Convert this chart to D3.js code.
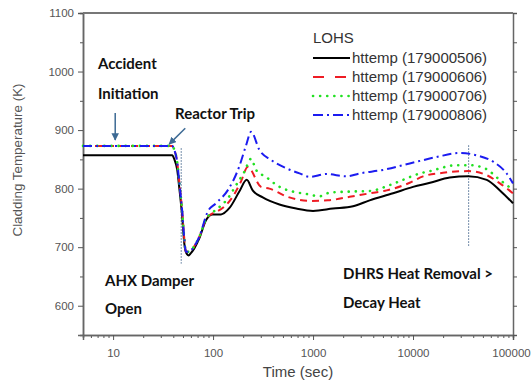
<!DOCTYPE html>
<html>
<head>
<meta charset="utf-8">
<script src="https://cdn.jsdelivr.net/npm/d3@7"></script>
<style>
  body { margin: 0; background: #fff; }
  .tick text { font-family: 'Liberation Sans', Arial, sans-serif; font-size: 11.5px; fill: #555; }
  .note { font-family: Lato, 'Open Sans', sans-serif; font-weight: bold; font-size: 15px; fill: #111; }
</style>
</head>
<body>
<div id="container"></div>
<script>
  // data
  const xTicks = [10, 100, 1000, 10000, 100000]
  const yTicks = [600, 700, 800, 900, 1000, 1100]

  const t506 = [5, 39, 41, 43.8, 46, 49.2, 51.5, 54, 56.9, 60, 64.9, 72.8, 84.9, 99, 120, 146, 183, 217, 249, 314, 461, 679, 1000, 1581, 2512, 3681, 6310, 10000, 14800, 23300, 35700, 54600, 74000, 100000]
  const v506 = [857, 857, 850, 832, 800, 751, 707, 690, 686, 690, 698, 715, 746, 756, 756, 767, 795, 815, 797, 785, 773, 766, 762, 766, 770, 780, 792, 803, 810, 819, 821, 815, 797, 775]

  const t606 = [5, 39, 41, 43.8, 46, 49.2, 51.5, 53.5, 57, 65, 73, 85, 100, 107, 157, 190, 222, 302, 366, 558, 923, 1406, 2323, 3681, 5450, 9270, 12600, 20000, 35700, 54600, 74000, 100000]
  const v606 = [873, 873, 866, 845, 810, 760, 715, 692, 692, 702, 718, 748, 758, 760, 786, 812, 837, 803, 800, 786, 779, 780, 786, 792, 797, 810, 821, 827, 830, 823, 809, 792]

  const t706 = [5, 39, 41, 43.8, 46, 49.2, 51.5, 53.5, 57, 65, 73, 85, 100, 111, 140, 170, 206, 240, 269, 338, 461, 627, 853, 1161, 1460, 2323, 3681, 5840, 7940, 11700, 14800, 27200, 37400, 54600, 71300, 100000]
  const v706 = [873, 873, 866, 845, 810, 760, 715, 692, 692, 702, 718, 748, 760, 766, 783, 806, 829, 851, 832, 820, 803, 795, 791, 787, 793, 795, 796, 806, 815, 826, 830, 840, 840, 833, 817, 798]

  const t806 = [5, 39, 41, 43.8, 46, 49.2, 51.5, 53.5, 57, 65, 73, 88, 107, 140, 183, 214, 240, 291, 380, 537, 733, 923, 1355, 2152, 2924, 5010, 9270, 17200, 29300, 43100, 63400, 86300, 100000]
  const v806 = [873, 873, 866, 845, 810, 760, 715, 692, 692, 702, 718, 760, 775, 797, 838, 874, 897, 866, 849, 835, 826, 820, 825, 821, 826, 832, 843, 854, 861, 857, 846, 826, 809]

  const seriesNames = ['httemp (179000506)', 'httemp (179000606)', 'httemp (179000706)', 'httemp (179000806)']
  const seriesT = [t506, t606, t706, t806]
  const seriesV = [v506, v606, v706, v806]
  const colors = ['#000000', '#ee1c24', '#22e022', '#1c1cf0']
  const dashes = [null, '7,5', '0.1,7', '9,4,2,4']

  // marker lines (time, from, to) and arrows
  const markT = [48, 36000]
  const markFrom = [869, 874]
  const markTo = [672, 700]

  const width = 532
  const height = 385
  const margin = { top: 13, right: 19, bottom: 50, left: 83 }
  const chartWidth = width - margin.left - margin.right
  const chartHeight = height - margin.top - margin.bottom

  const svg = d3.select('#container')
    .append('svg')
    .attr('width', width)
    .attr('height', height)
    .style('background', '#ffffff')

  const chart = svg.append('g')
    .attr('transform', `translate(${margin.left}, ${margin.top})`)

  const xScale = d3.scaleLog()
    .domain([5, 100000])
    .range([0, chartWidth])

  const yScale = d3.scaleLinear()
    .domain([550, 1100])
    .range([chartHeight, 0])

  // minor ticks
  const xMinor = []
  for (let e = 0; e < 5; e++) {
    for (let k = 2; k <= 9; k++) {
      const v = k * Math.pow(10, e)
      if (v >= 5 && v < 100000 && !xTicks.includes(v)) xMinor.push(v)
    }
  }
  const yMinor = d3.range(550, 1100, 50).filter(v => !yTicks.includes(v))

  // bottom axis
  chart.append('g')
    .attr('transform', `translate(0, ${chartHeight})`)
    .call(d3.axisBottom(xScale).tickValues(xMinor).tickSize(3).tickFormat(''))
  chart.append('g')
    .attr('class', 'xaxis')
    .attr('transform', `translate(0, ${chartHeight})`)
    .call(d3.axisBottom(xScale).tickValues(xTicks).tickSize(5).tickPadding(9).tickFormat(d3.format('d')))

  // nudge the last label so it stays inside the window, as in the source
  chart.select('.xaxis').selectAll('.tick text')
    .attr('dx', d => d === 100000 ? -2 : 0)

  // left axis
  chart.append('g')
    .call(d3.axisLeft(yScale).tickValues(yMinor).tickSize(3).tickFormat(''))
  chart.append('g')
    .call(d3.axisLeft(yScale).tickValues(yTicks).tickSize(5).tickPadding(4).tickFormat(d3.format('d')))

  // right axis, ticks inward
  chart.append('g')
    .attr('transform', `translate(${chartWidth}, 0)`)
    .call(d3.axisLeft(yScale).tickValues(yTicks.concat(yMinor)).tickSize(-4).tickFormat(''))

  chart.selectAll('.domain').attr('stroke', '#666').attr('stroke-width', 1.5)
  chart.selectAll('.tick line').attr('stroke', '#555')

  // top border
  chart.append('line')
    .attr('x1', 0).attr('x2', chartWidth)
    .attr('y1', 0).attr('y2', 0)
    .attr('stroke', '#777')
    .attr('stroke-width', 2)

  // vertical marker lines
  chart.selectAll('.mark')
    .data(markT)
    .enter()
    .append('line')
    .attr('class', 'mark')
    .attr('x1', d => xScale(d)).attr('x2', d => xScale(d))
    .attr('y1', (d, i) => yScale(markFrom[i]))
    .attr('y2', (d, i) => yScale(markTo[i]))
    .attr('stroke', '#4a6a90')
    .attr('stroke-width', 1)
    .attr('stroke-dasharray', '1.5,1.5')

  // curves
  const line = d3.line()
    .x(d => xScale(d[0]))
    .y(d => yScale(d[1]))
    .curve(d3.curveMonotoneX)

  seriesNames.forEach((name, i) => {
    const pts = seriesT[i].map((t, j) => [t, seriesV[i][j]])
    chart.append('path')
      .datum(pts)
      .attr('fill', 'none')
      .attr('stroke', colors[i])
      .attr('stroke-linecap', i === 2 ? 'round' : 'butt')
      .attr('stroke-width', i === 2 ? 2.6 : 2)
      .attr('stroke-dasharray', dashes[i])
      .attr('d', line)
  })

  // arrows
  svg.append('defs').append('marker')
    .attr('id', 'arrow')
    .attr('viewBox', '0 0 10 10')
    .attr('refX', 9).attr('refY', 5)
    .attr('markerWidth', 5).attr('markerHeight', 5)
    .attr('orient', 'auto')
    .append('path')
    .attr('d', 'M0,0 L10,5 L0,10 z')
    .attr('fill', '#3d6a94')

  const arrowFrom = [[10.5, 929], [52.7, 903]]
  const arrowTo = [[10.5, 883], [36.4, 876]]
  chart.selectAll('.arrow')
    .data(arrowFrom)
    .enter()
    .append('line')
    .attr('x1', d => xScale(d[0])).attr('y1', d => yScale(d[1]))
    .attr('x2', (d, i) => xScale(arrowTo[i][0])).attr('y2', (d, i) => yScale(arrowTo[i][1]))
    .attr('stroke', '#3d6a94')
    .attr('stroke-width', 1.5)
    .attr('marker-end', 'url(#arrow)')

  // annotations
  const notes = [
    ['Accident', 98, 69], ['Initiation', 98, 99], ['Reactor Trip', 175, 119],
    ['AHX Damper', 105, 286], ['Open', 105, 314],
    ['DHRS Heat Removal >', 343, 279], ['Decay Heat', 343, 308]
  ]
  svg.selectAll('.note')
    .data(notes)
    .enter()
    .append('text')
    .attr('class', 'note')
    .attr('x', d => d[1])
    .attr('y', d => d[2])
    .text(d => d[0])

  // legend
  const legend = svg.append('g')
    .attr('font-family', "'Liberation Sans', Arial, sans-serif")
    .attr('font-size', 15)
    .attr('fill', '#333')

  legend.append('text')
    .attr('x', 313).attr('y', 43)
    .text('LOHS')

  seriesNames.forEach((name, i) => {
    const y = 58 + i * 19
    legend.append('line')
      .attr('x1', 313).attr('x2', 350)
      .attr('y1', y).attr('y2', y)
      .attr('stroke', colors[i])
      .attr('stroke-width', i === 2 ? 2.6 : 2)
      .attr('stroke-linecap', i === 2 ? 'round' : 'butt')
      .attr('stroke-dasharray', i === 1 ? '11,11' : i === 3 ? '10,4,2,4' : dashes[i])
    legend.append('text')
      .attr('x', 352).attr('y', y + 5)
      .text(name)
  })

  // axis titles
  svg.append('text')
    .attr('x', 298).attr('y', 377)
    .attr('text-anchor', 'middle')
    .attr('font-family', "'Liberation Sans', Arial, sans-serif")
    .attr('font-size', 15)
    .attr('fill', '#444')
    .text('Time (sec)')

  svg.append('text')
    .attr('transform', 'translate(22, 160) rotate(-90)')
    .attr('text-anchor', 'middle')
    .attr('font-family', "'Liberation Sans', Arial, sans-serif")
    .attr('font-size', 13.4)
    .attr('fill', '#555')
    .text('Cladding Temperature (K)')
</script>
</body>
</html>
